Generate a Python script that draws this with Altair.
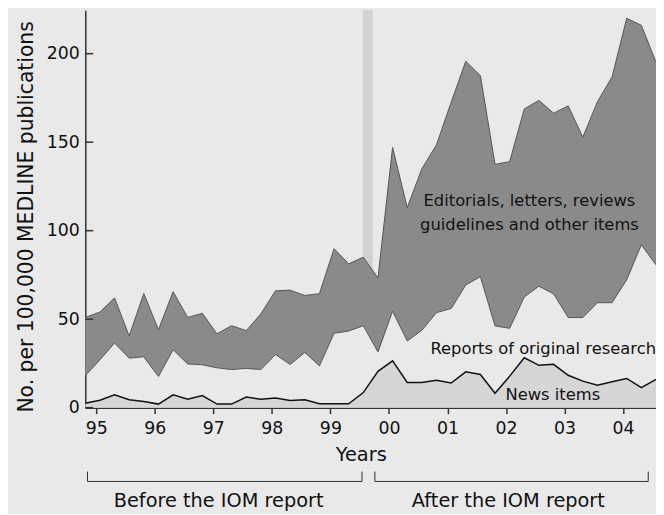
import altair as alt
import pandas as pd

# quarterly data, 1995 Q1 .. 2004 Q4
quarter = list(range(40))
total = [51, 54, 62, 40.5, 64.5, 44, 65.5, 51, 53.3, 41.7,
         46.3, 43.5, 53, 66, 66.4, 63.4, 64.4, 89.8, 81.3, 85,
         73.3, 147, 113, 135, 148.5, 172.5, 195.7, 187.6, 137.5, 139,
         168.8, 173.6, 166.4, 170.5, 152.8, 172.9, 186.9, 220, 216, 195.2]
reports = [18, 27, 36.5, 28, 28.7, 17.6, 32.7, 24.7, 24.2, 22.5,
           21.5, 22.2, 21.5, 30, 24.4, 31.2, 23.6, 42, 43.3, 46.3,
           31.5, 54.5, 37.7, 43.7, 53.7, 56, 69.3, 74, 46.2, 44.8,
           62.5, 68.6, 64.3, 50.9, 50.9, 59.3, 59.3, 72.3, 92, 80.7]
news = [2.5, 4.2, 7.2, 4.5, 3.5, 2, 7.2, 4.7, 6.8, 2,
        2, 6, 4.7, 5.4, 4.1, 4.4, 2.2, 2.2, 2.2, 8.5,
        20.5, 26.4, 14.2, 14.2, 15.5, 13.9, 20.2, 18.7, 8.1, 17.8,
        28.2, 23.9, 24.5, 18.3, 15, 12.7, 14.6, 16.5, 11.3, 15.9]

year_ticks = [95, 96, 97, 98, 99, 100, 101, 102, 103, 104]
y_ticks = [0, 50, 100, 150, 200]

FONT = "DejaVu Sans"
XDOM = [94.8125, 104.5625]
YDOM = [0, 224.5]

df = pd.DataFrame({
    "year": [94.8125 + 0.25 * q for q in quarter],
    "total": total,
    "reports": reports,
    "news": news,
    "zero": [0] * len(quarter),
})

xs = alt.Scale(domain=XDOM, nice=False, zero=False)
ys = alt.Scale(domain=YDOM, nice=False)

xaxis = alt.Axis(values=year_ticks,
                 labelExpr="datum.value < 100 ? format(datum.value, 'd') : '0' + format(datum.value - 100, 'd')",
                 title="Years", tickSize=6, labelPadding=6, grid=False,
                 titleX=278, titleY=38, titleBaseline="top")
yaxis = alt.Axis(values=y_ticks, title="No. per 100,000 MEDLINE publications",
                 tickSize=0, labelPadding=6, grid=False,
                 titleX=-49, titleY=208, titleBaseline="bottom", titleAngle=270,
                 titleFontSize=20.5)

base = alt.Chart(df)

band_df = pd.DataFrame({"x1": [99.555], "x2": [99.725], "y1": [76], "y2": [224.5]})
band = alt.Chart(band_df).mark_rect(color="#d2d2d2").encode(
    x=alt.X("x1:Q", scale=xs, axis=xaxis), x2="x2:Q",
    y=alt.Y("y1:Q", scale=ys, axis=yaxis), y2="y2:Q")

dark = base.mark_area(color="#8a8a8a").encode(
    x=alt.X("year:Q", scale=xs), y=alt.Y("total:Q", scale=ys), y2="reports:Q")
light = base.mark_area(color="#d6d6d6").encode(
    x=alt.X("year:Q", scale=xs), y=alt.Y("news:Q", scale=ys), y2="zero:Q")
line_total = base.mark_line(color="#555555", strokeWidth=1).encode(
    x=alt.X("year:Q", scale=xs), y=alt.Y("total:Q", scale=ys))
line_rep = base.mark_line(color="#555555", strokeWidth=1).encode(
    x=alt.X("year:Q", scale=xs), y=alt.Y("reports:Q", scale=ys))
line_news = base.mark_line(color="#111111", strokeWidth=1.5).encode(
    x=alt.X("year:Q", scale=xs), y=alt.Y("news:Q", scale=ys))

# inward y ticks
ytick_df = pd.DataFrame({"v": y_ticks})
yticks = alt.Chart(ytick_df).mark_rule(color="#333333", strokeWidth=1.5).encode(
    y=alt.Y("v:Q", scale=ys), x=alt.value(0), x2=alt.value(8))

# series labels (centered)
lab_df = pd.DataFrame({
    "x": [102.40, 102.40, 102.80],
    "y": [113.9, 100.5, 4.4],
    "t": ["Editorials, letters, reviews", "guidelines and other items", "News items"],
})
labels = alt.Chart(lab_df).mark_text(font=FONT, fontSize=16.5, color="#111111",
                                     baseline="alphabetic").encode(
    x=alt.X("x:Q", scale=xs), y=alt.Y("y:Q", scale=ys), text="t:N")
lab2_df = pd.DataFrame({"x": [104.5625], "y": [30.5], "t": ["Reports of original research"]})
labels2 = alt.Chart(lab2_df).mark_text(font=FONT, fontSize=16.5, color="#111111",
                                       baseline="alphabetic", align="right").encode(
    x=alt.X("x:Q", scale=xs), y=alt.Y("y:Q", scale=ys), text="t:N")

# period brackets below the axis
br_df = pd.DataFrame({"a": [94.85, 99.76], "b": [99.54, 104.43],
                      "mid": [97.09, 102.04],
                      "t": ["Before the IOM report", "After the IOM report"]})
br_h = alt.Chart(br_df).mark_rule(color="#333333", strokeWidth=1).encode(
    x=alt.X("a:Q", scale=xs), x2="b:Q", y=alt.value(475.5))
br_l = alt.Chart(br_df).mark_rule(color="#333333", strokeWidth=1).encode(
    x=alt.X("a:Q", scale=xs), y=alt.value(465.5), y2=alt.value(475.5))
br_r = alt.Chart(br_df).mark_rule(color="#333333", strokeWidth=1).encode(
    x=alt.X("b:Q", scale=xs), y=alt.value(465.5), y2=alt.value(475.5))
br_t = alt.Chart(br_df).mark_text(font=FONT, fontSize=19.5, color="#111111",
                                  baseline="alphabetic").encode(
    x=alt.X("mid:Q", scale=xs), y=alt.value(501), text="t:N")

chart = alt.layer(band, dark, light, line_total, line_rep, line_news, yticks,
                  labels, labels2, br_h, br_l, br_r, br_t).properties(
    width=576, height=401,
    autosize=alt.AutoSizeParams(type="none"),
    padding={"left": 78, "top": 0, "right": 0, "bottom": 105},
).configure(background="#e9e9e9").configure_view(stroke=None).configure_axis(
    domainColor="#333333", domainWidth=1.5, tickColor="#333333", tickWidth=1.5,
    labelFont=FONT, labelFontSize=17.5, labelColor="#111111",
    titleFont=FONT, titleFontSize=19.5, titleColor="#111111", titleFontWeight="normal",
)

chart.save("out.html", embed_options={"renderer": "svg", "actions": False})
